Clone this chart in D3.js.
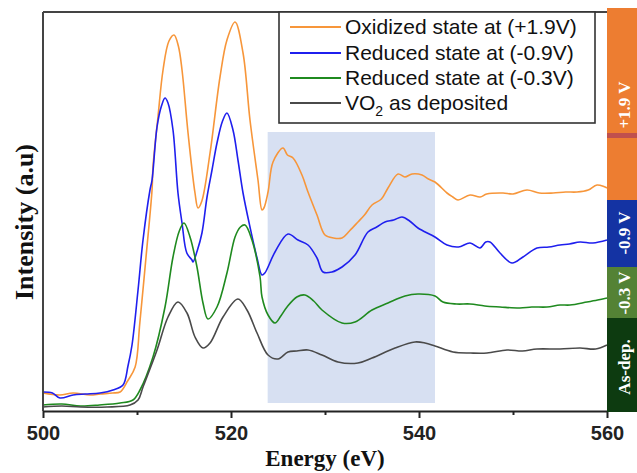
<!DOCTYPE html>
<html><head><meta charset="utf-8">
<script src="https://cdn.jsdelivr.net/npm/d3@7/dist/d3.min.js"></script>
<style>html,body{margin:0;padding:0;background:#fff;overflow:hidden}</style>
</head><body>
<svg id="chart" width="637" height="473"></svg>
<script>
// ---------- data ----------
const xTicks = [500, 520, 540, 560];
const xMinorTicks = [510, 530, 550];
const seriesNames = ["Oxidized state at (+1.9V)", "Reduced state at (-0.9V)", "Reduced state at (-0.3V)", "VO2 as deposited"];
const seriesColors = ["#f7963a", "#1f1fee", "#1f8a1f", "#4a4a4a"];
const sideLabels = ["+1.9 V", "-0.9 V", "-0.3 V", "As-dep."];
const shadedRange = [523.9, 541.7];

const oxidizedE = [500,501.8,503.2,505,506.1,507.4,508.2,509.0,509.8,510.3,510.96,511.6,511.7,512.23,512.77,513.4,513.94,514.4,514.79,515.43,516.17,516.49,516.9,517.77,518.83,519.57,520.43,521.28,522.02,522.87,523.3,523.5,523.94,524.47,525.53,526.0,526.6,527.55,528.19,529.15,530.0,530.9,531.81,532.6,533.51,534.2,535.0,536.0,536.7,537.77,538.5,539.26,540.32,541.0,541.7,542.98,543.6,544.15,545.43,546.5,547.2,548.94,550.0,551.49,552.8,554.26,555.6,556.81,558.0,558.94,560];
const oxidizedI = [18,16,18,16,17,18,19,30,44,88,154,221,244,294,341,370,376,365,341,278,218,203,210,258,334,371,389,358,291,231,201,203,219,249,263,256,253,236,219,196,176,173,173,180,189,196,206,212,223,237,234,237,236,232,229,218,214,211,216,214,217,218,217,221,218,218,219,219,221,226,223];

const reducedE = [500,501.0,501.8,503.2,504.5,506.06,507.45,508.51,509.04,509.47,510.11,510.64,511.38,511.6,512.13,512.6,512.98,513.3,513.83,514.36,514.79,515.3,515.85,515.96,516.4,516.91,517.45,517.98,518.51,519.1,519.57,520.21,520.74,521.28,522.02,522.77,523.3,523.6,524.68,526.06,527.13,528.19,529.15,529.79,530.74,531.81,533.19,534.57,535.5,536.38,537.3,538.19,539.0,539.89,541.7,542.98,544.2,545.43,546.49,547.1,547.55,548.62,549.89,551.06,552.55,553.8,555.0,556.0,557.13,558.5,560];
const reducedI = [19,18,13,16,17,18,21,26,45,66,121,171,221,231,284,305,313,308,281,218,188,158,151,149,160,178,214,241,268,290,298,281,251,218,184,153,136,138,159,177,171,166,153,139,139,144,156,179,184,189,191,194,190,183,174,166,164,168,163,169,169,158,148,154,163,164,166,167,169,168,171];

const reducedLowE = [500,502,504,506,508.2,509.57,510.32,511.7,512.98,513.83,514.5,515.0,515.64,516.38,517.02,517.55,518.51,519.57,520.43,521.0,521.49,522.23,523.09,523.3,523.94,524.68,525.3,525.96,527.0,527.87,528.8,529.68,531.81,533.19,535.0,536.7,538.51,539.89,541.7,542.55,544.0,545.43,547.0,548.62,550.74,552.0,553.62,555.0,556.06,557.87,559.0,560];
const reducedLowI = [6,7,5,6,8,11,21,54,104,154,180,188,174,144,108,92,104,138,174,184,186,171,134,114,96,88,95,104,114,116,110,101,88,89,101,108,115,117,115,109,107,107,105,104,103,104,104,106,106,109,111,113];

const depositedE = [500,502,504,506.8,509.26,510.11,510.64,512.13,513.3,514.36,515.32,516.17,517.02,517.77,519.15,520.74,521.7,522.77,523.94,525.0,526.06,527.0,528.19,529.68,531.38,533.51,535.0,537.45,539.57,540.64,541.7,543.62,545.5,547.23,549.36,551.0,552.55,555.0,557.13,558.8,560];
const depositedI = [4,5,4,4,6,11,24,61,94,109,98,74,63,68,94,112,101,78,56,52,59,60,61,56,49,48,53,63,69,68,65,59,58,58,61,60,62,62,63,62,66];

const seriesData = [
  oxidizedE.map((e,i)=>({e, v: oxidizedI[i]})),
  reducedE.map((e,i)=>({e, v: reducedI[i]})),
  reducedLowE.map((e,i)=>({e, v: reducedLowI[i]})),
  depositedE.map((e,i)=>({e, v: depositedI[i]}))
];

// ---------- layout ----------
const svg = d3.select("#chart");
const L = 43, R = 607, T = 12, B = 411;
const x = d3.scaleLinear().domain([500, 560]).range([L, R]);
const y = d3.scaleLinear().domain([0, 399]).range([B, T]);

// shaded region
svg.append("rect")
  .attr("x", x(shadedRange[0])).attr("width", x(shadedRange[1]) - x(shadedRange[0]))
  .attr("y", y(279)).attr("height", y(8) - y(279))
  .attr("fill", "#d7e0f2");

// curves
const line = d3.line().x(d => x(d.e)).y(d => y(d.v)).curve(d3.curveCatmullRom.alpha(0.5));
seriesData.forEach((d, i) => {
  svg.append("path").datum(d).attr("d", line)
    .attr("fill", "none").attr("stroke", seriesColors[i]).attr("stroke-width", 1.6);
});

// frame
svg.append("line").attr("x1", L).attr("x2", L).attr("y1", T).attr("y2", B).attr("stroke", "#444").attr("stroke-width", 2);
svg.append("line").attr("x1", L).attr("x2", R).attr("y1", T).attr("y2", T).attr("stroke", "#444").attr("stroke-width", 2);

// x axis
const xAxis = d3.axisBottom(x).tickValues(xTicks).tickSize(7).tickSizeOuter(0).tickPadding(8).tickFormat(d3.format("d"));
const gx = svg.append("g").attr("transform", `translate(0,${B})`).call(xAxis);
gx.select(".domain").attr("stroke", "#222").attr("stroke-width", 2);
gx.selectAll(".tick line").attr("stroke", "#222").attr("stroke-width", 2);
gx.selectAll(".tick text").attr("fill", "#222").style("font-family", "Liberation Sans, Arial, sans-serif")
  .style("font-size", "20px").style("font-weight", "bold");
svg.append("g").attr("transform", `translate(0,${B})`)
  .call(d3.axisBottom(x).tickValues(xMinorTicks).tickSize(4).tickFormat(""))
  .call(g => g.select(".domain").remove())
  .selectAll(".tick line").attr("stroke", "#222").attr("stroke-width", 2);

// axis titles
svg.append("text").attr("x", 325).attr("y", 466).attr("text-anchor", "middle")
  .style("font-family", "Liberation Serif, Times New Roman, serif").style("font-weight", "bold").style("font-size", "23px")
  .attr("fill", "#111").text("Energy (eV)");
svg.append("text").attr("transform", "translate(33,222) rotate(-90)").attr("text-anchor", "middle")
  .style("font-family", "Liberation Serif, Times New Roman, serif").style("font-weight", "bold").style("font-size", "26px")
  .attr("fill", "#111").text("Intensity (a.u)");

// legend
const lg = svg.append("g");
lg.append("rect").attr("x", 279).attr("y", T).attr("width", 316).attr("height", 111)
  .attr("fill", "#fff").attr("stroke", "#333").attr("stroke-width", 1.6);
const rowY = [27, 53, 78, 103];
seriesNames.forEach((n, i) => {
  lg.append("line").attr("x1", 290).attr("x2", 341).attr("y1", rowY[i]).attr("y2", rowY[i])
    .attr("stroke", seriesColors[i]).attr("stroke-width", 2);
  const t = lg.append("text").attr("x", 345).attr("y", rowY[i] + 7)
    .style("font-family", "Liberation Sans, Arial, sans-serif").style("font-size", "21px").attr("fill", "#111");
  if (n.startsWith("VO2")) {
    t.append("tspan").text("VO");
    t.append("tspan").attr("dy", 6).style("font-size", "14px").text("2");
    t.append("tspan").attr("dy", -6).text(n.slice(3));
  } else t.text(n);
});

// side bar
const bars = [
  {y0: 8, y1: 200, c: "#ed7d31"},
  {y0: 200, y1: 267, c: "#1433a3"},
  {y0: 267, y1: 318, c: "#548235"},
  {y0: 318, y1: 412, c: "#0d3b10"}
];
bars.forEach(b => svg.append("rect").attr("x", R).attr("y", b.y0).attr("width", 637 - R).attr("height", b.y1 - b.y0).attr("fill", b.c));
svg.append("rect").attr("x", R).attr("y", 133).attr("width", 637 - R).attr("height", 5).attr("fill", "#c0504d");
const labelCY = [105, 233, 293, 367];
sideLabels.forEach((s, i) => {
  svg.append("text").attr("transform", `translate(630,${labelCY[i]}) rotate(-90)`).attr("text-anchor", "middle")
    .style("font-family", "Liberation Serif, Times New Roman, serif").style("font-weight", "bold").style("font-size", "17px")
    .attr("fill", "#fff").text(s);
});
</script>
</body></html>
